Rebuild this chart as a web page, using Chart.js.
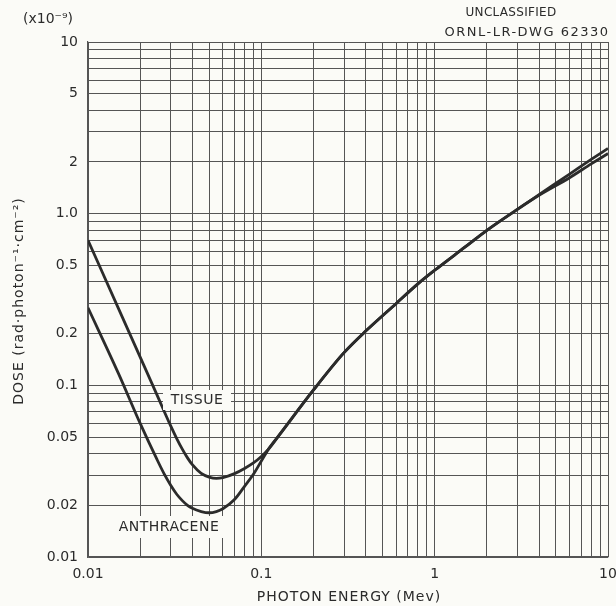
<!DOCTYPE html>
<html lang="en">
<head>
  <meta charset="UTF-8">
  <title>Dose per photon - Tissue and Anthracene</title>
  <script src="https://cdn.jsdelivr.net/npm/chart.js"></script>
  <style>
    body { margin: 0; background: #fbfbf7; }
    #wrap { width: 616px; height: 606px; position: relative; }
  </style>
</head>
<body>
  <div id="wrap"><canvas id="grafico"></canvas></div>
  <script>
    // photon energy (Mev) and dose (x1e-9 rad per photon per cm2)
    const tissueEnergy = [0.01, 0.015, 0.02, 0.025, 0.03, 0.0325, 0.035, 0.0375, 0.04, 0.045, 0.05, 0.055, 0.06, 0.07, 0.08, 0.09, 0.1, 0.11, 0.13, 0.2, 0.3, 0.4, 0.6, 0.8, 1, 1.5, 2, 3, 4, 6, 8, 10];
    const tissueDose   = [0.70, 0.28, 0.146, 0.088, 0.058, 0.049, 0.0425, 0.0378, 0.0345, 0.0307, 0.0292, 0.0287, 0.029, 0.0306, 0.0328, 0.0353, 0.0385, 0.0425, 0.053, 0.094, 0.155, 0.207, 0.30, 0.39, 0.468, 0.64, 0.80, 1.06, 1.29, 1.70, 2.07, 2.40];
    const anthEnergy = [0.01, 0.015, 0.02, 0.025, 0.0275, 0.03, 0.0325, 0.035, 0.0375, 0.04, 0.045, 0.05, 0.055, 0.06, 0.07, 0.08, 0.09, 0.1, 0.11, 0.13, 0.2, 0.3, 0.4, 0.6, 0.8, 1, 1.5, 2, 3, 4, 6, 8, 10];
    const anthDose   = [0.283, 0.117, 0.060, 0.037, 0.0305, 0.0262, 0.0232, 0.0213, 0.020, 0.0192, 0.0184, 0.0181, 0.0184, 0.0191, 0.0216, 0.0258, 0.0303, 0.0362, 0.0425, 0.053, 0.094, 0.155, 0.207, 0.30, 0.39, 0.468, 0.64, 0.80, 1.06, 1.28, 1.62, 1.95, 2.24];

    const xLabelValues = [0.01, 0.1, 1, 10];
    const xLabelTexts  = ["0.01", "0.1", "1", "10"];
    const yLabelValues = [0.01, 0.02, 0.05, 0.1, 0.2, 0.5, 1, 2, 5, 10];
    const yLabelTexts  = ["0.01", "0.02", "0.05", "0.1", "0.2", "0.5", "1.0", "2", "5", "10"];

    const ink = "#2b2b2b";
    const gridInk = "#555555";
    const paper = "#fbfbf7";
    const fonte = '"DejaVu Sans", sans-serif';

    // every 1..9 line of each decade
    function logGrid(min, max) {
      const out = [];
      for (let d = min; d < max * 0.999; d *= 10) {
        for (let m = 1; m <= 9; m++) out.push(+(m * d).toPrecision(3));
      }
      out.push(max);
      return out;
    }

    function rotulo(values, texts) {
      return (v) => {
        const i = values.findIndex(t => Math.abs(t - v) / t < 1e-6);
        return i >= 0 ? texts[i] : "";
      };
    }

    const anotacoes = {
      id: "anotacoes",
      afterDraw(chart) {
        const c = chart.ctx;
        c.save();
        c.fillStyle = ink;
        c.textAlign = "center";
        c.textBaseline = "middle";

        // curve labels sit on a blank patch of the grid
        const caixa = (txt, x, y, w, h) => {
          c.fillStyle = paper;
          c.fillRect(x - w / 2, y - h / 2, w, h);
          c.fillStyle = ink;
          c.font = "14px " + fonte;
          c.letterSpacing = "0.5px";
          c.fillText(txt, x, y);
        };
        caixa("TISSUE", 197, 400, 68, 20);
        caixa("ANTHRACENE", 169, 527, 116, 22);

        c.letterSpacing = "1px";
        c.font = "14px " + fonte;
        c.fillText("PHOTON ENERGY (Mev)", 349, 597);

        c.save();
        c.translate(19, 301);
        c.rotate(-Math.PI / 2);
        c.fillText("DOSE (rad\u00b7photon\u207b\u00b9\u00b7cm\u207b\u00b2)", 0, 0);
        c.restore();

        c.letterSpacing = "0px";
        c.font = "14px " + fonte;
        c.fillText("(x10\u207b\u2079)", 48, 19);

        c.letterSpacing = "0.3px";
        c.font = "12px " + fonte;
        c.fillText("UNCLASSIFIED", 511, 13);
        c.letterSpacing = "1.5px";
        c.font = "13px " + fonte;
        c.fillText("ORNL-LR-DWG 62330", 527, 33);
        c.restore();
      }
    };

    const toPts = (xs, ys) => xs.map((x, i) => ({ x, y: ys[i] }));

    const ctx = document.getElementById("grafico").getContext("2d");
    new Chart(ctx, {
      type: "line",
      data: {
        datasets: [
          { label: "TISSUE", data: toPts(tissueEnergy, tissueDose) },
          { label: "ANTHRACENE", data: toPts(anthEnergy, anthDose) }
        ]
      },
      options: {
        responsive: true,
        maintainAspectRatio: false,
        animation: false,
        layout: { padding: { left: 0, right: 8, top: 42, bottom: 0 } },
        elements: {
          point: { radius: 0 },
          line: { borderColor: ink, borderWidth: 2.8, cubicInterpolationMode: "monotone", fill: false }
        },
        plugins: {
          legend: { display: false },
          tooltip: { enabled: false }
        },
        scales: {
          x: {
            type: "logarithmic",
            min: 0.01, max: 10,
            afterBuildTicks: s => { s.ticks = logGrid(0.01, 10).map(v => ({ value: v })); },
            afterFit: s => { s.height = 49; s.paddingLeft = 0; s.paddingRight = 0; },
            grid: { color: gridInk, lineWidth: 1, drawTicks: false },
            border: { color: gridInk, width: 1.2 },
            ticks: {
              autoSkip: false, maxRotation: 0, padding: 9,
              color: ink, font: { family: fonte, size: 14 },
              callback: rotulo(xLabelValues, xLabelTexts)
            }
          },
          y: {
            type: "logarithmic",
            min: 0.01, max: 10,
            afterBuildTicks: s => { s.ticks = logGrid(0.01, 10).map(v => ({ value: v })); },
            afterFit: s => { s.width = 88; s.paddingTop = 0; s.paddingBottom = 0; },
            grid: { color: gridInk, lineWidth: 1, drawTicks: false },
            border: { color: gridInk, width: 1.2 },
            ticks: {
              autoSkip: false, padding: 10,
              color: ink, font: { family: fonte, size: 14 },
              callback: rotulo(yLabelValues, yLabelTexts)
            }
          }
        }
      },
      plugins: [anotacoes]
    });
  </script>
</body>
</html>
